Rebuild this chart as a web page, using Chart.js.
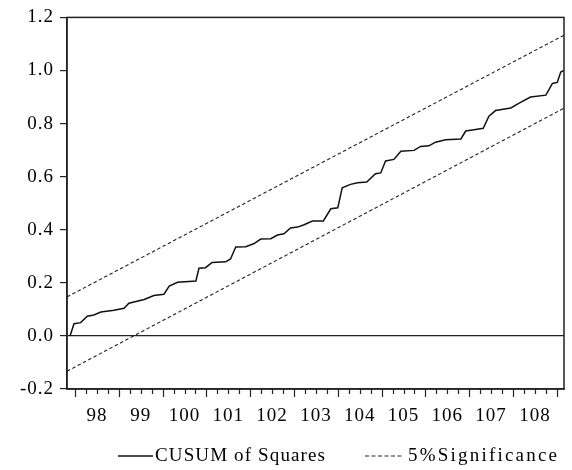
<!DOCTYPE html>
<html><head><meta charset="utf-8">
<script src="https://cdn.jsdelivr.net/npm/chart.js@4/dist/chart.umd.min.js"></script>
<style>html,body{margin:0;padding:0;background:#fff}#wrap{width:572px;height:470px}</style>
</head><body><div id="wrap"><canvas id="c" width="572" height="470"></canvas></div>
<script>
const cusumYears = [97.886, 97.977, 98.129, 98.28, 98.43, 98.59, 98.89, 99.12, 99.23, 99.58, 99.80, 100.03, 100.15, 100.34, 100.76, 100.83, 100.98, 101.13, 101.44, 101.55, 101.67, 101.90, 102.09, 102.24, 102.47, 102.62, 102.77, 102.92, 103.08, 103.23, 103.42, 103.67, 103.84, 104.00, 104.10, 104.29, 104.45, 104.66, 104.86, 104.98, 105.09, 105.28, 105.44, 105.74, 105.89, 106.08, 106.23, 106.46, 106.81, 106.92, 107.11, 107.32, 107.45, 107.60, 107.95, 108.14, 108.40, 108.75, 108.90, 109.01, 109.09, 109.16];
const cusumValues = [0, 0.046, 0.050, 0.074, 0.079, 0.090, 0.097, 0.104, 0.123, 0.137, 0.152, 0.157, 0.188, 0.202, 0.207, 0.255, 0.257, 0.277, 0.279, 0.290, 0.335, 0.336, 0.348, 0.365, 0.366, 0.380, 0.385, 0.407, 0.410, 0.419, 0.433, 0.433, 0.479, 0.483, 0.558, 0.571, 0.577, 0.580, 0.611, 0.614, 0.659, 0.665, 0.696, 0.699, 0.714, 0.716, 0.730, 0.739, 0.742, 0.772, 0.777, 0.782, 0.828, 0.849, 0.859, 0.877, 0.900, 0.907, 0.951, 0.955, 0.994, 1.0];
const boundYears = [97.817, 109.164];
const upperBound = [0.147, 1.133];
const lowerBound = [-0.133, 0.858];
const yearLabels = ['98','99','100','101','102','103','104','105','106','107','108'];
const yMin = -0.2, yMax = 1.2, yStep = 0.2;
const seriesNames = ['CUSUM of Squares', '5%Significance'];

const FONT = '"Liberation Serif", "Times New Roman", serif';
Chart.defaults.font.family = FONT;
Chart.defaults.font.size = 19;
Chart.defaults.color = '#000';

const pts = (xs, ys) => xs.map((x, i) => ({x: x, y: ys[i]}));
const firstYear = parseInt(yearLabels[0], 10);
const spacing = c => { try { c.ctx.letterSpacing = '1px'; } catch (e) {} };

function legendText(ctx, text, x, y, targetWidth) {
  ctx.letterSpacing = '0px';
  const w = ctx.measureText(text).width;
  const ls = Math.max(0, (targetWidth - w) / (text.length - 1));
  ctx.letterSpacing = ls.toFixed(2) + 'px';
  ctx.fillText(text, x, y);
}

const decor = {
  id: 'decor',
  beforeUpdate: spacing,
  beforeLayout: spacing,
  beforeDraw: spacing,
  afterDraw(chart) {
    const ctx = chart.ctx, a = chart.chartArea, xs = chart.scales.x;
    ctx.save();
    ctx.strokeStyle = '#222';
    ctx.lineWidth = 1.5;
    ctx.strokeRect(a.left, a.top, a.right - a.left, a.bottom - a.top);
    ctx.lineWidth = 1.2;
    for (let q = Math.ceil(xs.min * 4) / 4; q <= xs.max + 1e-9; q += 0.25) {
      const px = Math.round(xs.getPixelForValue(q)) + 0.5;
      const major = Math.abs(q - Math.round(q)) < 1e-6;
      ctx.beginPath();
      ctx.moveTo(px, a.bottom);
      ctx.lineTo(px, a.bottom + (major ? 8 : 5));
      ctx.stroke();
    }
    // legend
    const ly = 456;
    ctx.font = '19px ' + FONT;
    ctx.fillStyle = '#000';
    ctx.textBaseline = 'middle';
    ctx.textAlign = 'left';
    ctx.lineWidth = 1.3;
    ctx.strokeStyle = '#111';
    ctx.setLineDash([]);
    ctx.beginPath(); ctx.moveTo(118, ly); ctx.lineTo(153, ly); ctx.stroke();
    legendText(ctx, seriesNames[0], 155, ly, 170);
    ctx.lineWidth = 1.1;
    ctx.strokeStyle = '#222';
    ctx.setLineDash([4, 2.5]);
    ctx.beginPath(); ctx.moveTo(365, ly); ctx.lineTo(402, ly); ctx.stroke();
    ctx.setLineDash([]);
    legendText(ctx, seriesNames[1], 408, ly, 149);
    ctx.restore();
  }
};

new Chart(document.getElementById('c'), {
  type: 'line',
  data: {
    datasets: [
      {label: seriesNames[0], data: pts(cusumYears, cusumValues), borderColor: '#111', borderWidth: 1.5, pointRadius: 0, tension: 0, fill: false},
      {label: seriesNames[1], data: pts(boundYears, upperBound), borderColor: '#222', borderWidth: 1.1, borderDash: [3.5, 2.5], pointRadius: 0, tension: 0, fill: false},
      {label: seriesNames[1] + ' (lower)', data: pts(boundYears, lowerBound), borderColor: '#222', borderWidth: 1.1, borderDash: [3.5, 2.5], pointRadius: 0, tension: 0, fill: false}
    ]
  },
  options: {
    responsive: false,
    animation: false,
    devicePixelRatio: 1,
    layout: {padding: {left: 0, right: 8, top: 17, bottom: 0}},
    plugins: {legend: {display: false}, tooltip: {enabled: false}},
    scales: {
      x: {
        type: 'linear',
        min: boundYears[0],
        max: boundYears[1],
        grid: {display: false},
        border: {display: true, color: '#222', width: 1.5},
        afterBuildTicks: s => { s.ticks = yearLabels.map((l, i) => ({value: firstYear + i + 0.5})); },
        afterFit: s => { s.height = 81; },
        ticks: {autoSkip: false, maxRotation: 0, minRotation: 0, padding: 8, color: '#000',
          callback: (v, i) => yearLabels[i]}
      },
      y: {
        min: yMin, max: yMax,
        afterFit: s => { s.width = 67; },
        grid: {
          display: true, drawOnChartArea: true, drawTicks: true, tickLength: 7,
          color: c => (c.tick && Math.abs(c.tick.value) < 1e-9) ? '#222' : 'rgba(0,0,0,0)',
          tickColor: '#222', lineWidth: 1.2, tickWidth: 1.2
        },
        border: {display: true, color: '#222', width: 1.5},
        ticks: {stepSize: yStep, padding: 6, color: '#000',
          callback: v => (Math.abs(v) < 1e-9 ? 0 : v).toFixed(1)}
      }
    }
  },
  plugins: [decor]
});
</script></body></html>
